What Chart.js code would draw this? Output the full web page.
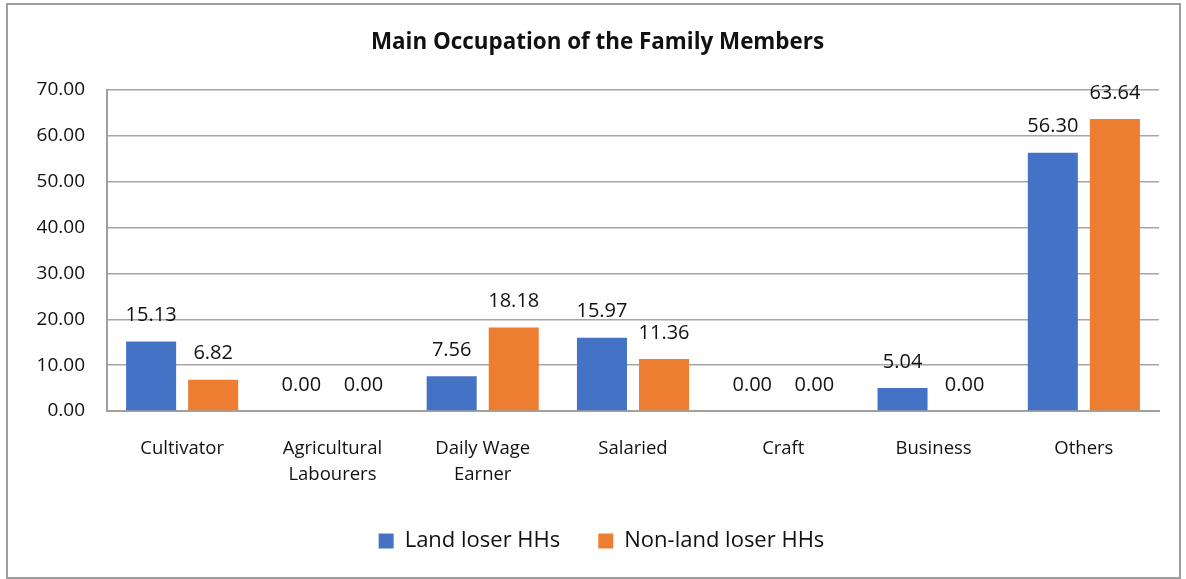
<!DOCTYPE html>
<html>
<head>
<meta charset="utf-8">
<title>Main Occupation of the Family Members</title>
<script src="https://cdn.jsdelivr.net/npm/chart.js@4"></script>
<style>
    html, body { margin: 0; padding: 0; background: #fff; }
    #wrap { width: 1186px; height: 579px; }
</style>
</head>
<body>
<div id="wrap"><canvas id="occupationChart" width="1186" height="579"></canvas></div>
<script>
var categories = ['Cultivator', ['Agricultural', 'Labourers'], ['Daily Wage', 'Earner'], 'Salaried', 'Craft', 'Business', 'Others'];
var landLoser = [15.13, 0.00, 7.56, 15.97, 0.00, 5.04, 56.30];
var nonLandLoser = [6.82, 0.00, 18.18, 11.36, 0.00, 0.00, 63.64];
var seriesNames = ['Land loser HHs', 'Non-land loser HHs'];
var yTicks = [0, 10, 20, 30, 40, 50, 60, 70];

var fontFamily = '"Open Sans", sans-serif';

// white background plus the thin grey frame around the whole chart
var frame = {
    id: 'frame',
    beforeDraw: function (chart) {
        var c = chart.ctx;
        c.save();
        c.fillStyle = '#fff';
        c.fillRect(0, 0, chart.width, chart.height);
        c.strokeStyle = '#9e9e9e';
        c.lineWidth = 2;
        c.strokeRect(7, 4, 1173, 574);
        c.restore();
    }
};

// title and legend sit centred on the frame, not on the plot, so nudge them right
var centreOnFrame = {
    id: 'centreOnFrame',
    afterLayout: function (chart) {
        chart.legend.left += 22;
        chart.legend.right += 22;
        chart.titleBlock.left += 18;
        chart.titleBlock.right += 18;
    }
};

// value labels above each bar
var barValues = {
    id: 'barValues',
    afterDatasetsDraw: function (chart) {
        var c = chart.ctx;
        c.save();
        c.font = '20px ' + fontFamily;
        c.fillStyle = '#111';
        c.textAlign = 'center';
        c.textBaseline = 'middle';
        chart.data.datasets.forEach(function (ds, i) {
            chart.getDatasetMeta(i).data.forEach(function (bar, j) {
                c.fillText(ds.data[j].toFixed(2), bar.x, bar.y - 26);
            });
        });
        c.restore();
    }
};

document.addEventListener('DOMContentLoaded', function () {
    var ctx = document.getElementById('occupationChart').getContext('2d');
    var occupationChart = new Chart(ctx, {
        type: 'bar',
        data: {
            labels: categories,
            datasets: [{
                label: seriesNames[0],
                data: landLoser,
                backgroundColor: '#4472C4',
                categoryPercentage: 0.826,
                barPercentage: 0.806
            }, {
                label: seriesNames[1],
                data: nonLandLoser,
                backgroundColor: '#ED7D31',
                categoryPercentage: 0.826,
                barPercentage: 0.806
            }]
        },
        options: {
            responsive: false,
            animation: false,
            layout: {
                padding: { left: 0, right: 27, top: 0, bottom: 17 }
            },
            scales: {
                x: {
                    afterFit: function (scale) { scale.height = 81; },
                    grid: { display: false, drawTicks: false },
                    border: { display: true, color: '#a0a0a0', width: 2 },
                    ticks: {
                        color: '#111',
                        padding: 25,
                        maxRotation: 0,
                        autoSkip: false,
                        font: { family: fontFamily, size: 18.5, lineHeight: 1.4 }
                    }
                },
                y: {
                    min: 0,
                    max: 70,
                    afterFit: function (scale) { scale.width = 107; },
                    afterBuildTicks: function (scale) {
                        scale.ticks = yTicks.map(function (v) { return { value: v }; });
                    },
                    grid: { color: '#a6a6a6', lineWidth: 1.5, drawTicks: false },
                    border: { display: true, color: '#a0a0a0', width: 2 },
                    ticks: {
                        color: '#111',
                        padding: 22,
                        callback: function (v) { return Number(v).toFixed(2); },
                        font: { family: fontFamily, size: 19 }
                    }
                }
            },
            plugins: {
                title: {
                    display: true,
                    text: 'Main Occupation of the Family Members',
                    color: '#111',
                    padding: { top: 29, bottom: 34 },
                    font: { family: fontFamily, size: 22.4, weight: 'bold' }
                },
                legend: {
                    position: 'bottom',
                    labels: {
                        color: '#111',
                        boxWidth: 15,
                        boxHeight: 15,
                        padding: 38,
                        font: { family: fontFamily, size: 22 }
                    }
                },
                tooltip: { enabled: false }
            }
        },
        plugins: [frame, centreOnFrame, barValues]
    });
});
</script>
</body>
</html>
